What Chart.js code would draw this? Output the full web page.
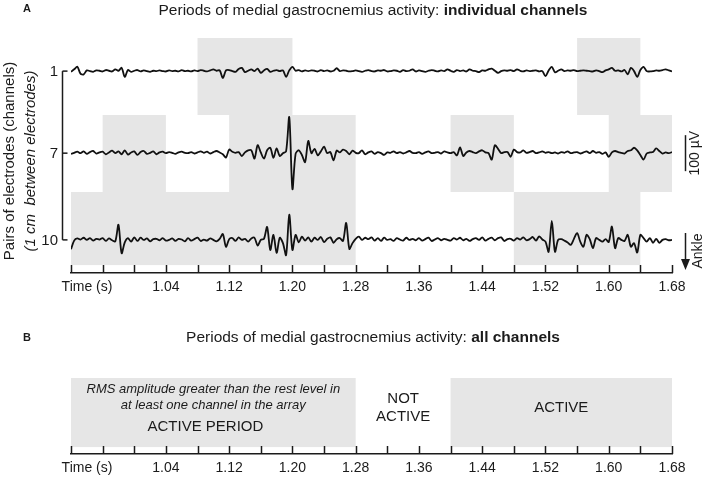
<!DOCTYPE html>
<html>
<head>
<meta charset="utf-8">
<script src="https://cdn.jsdelivr.net/npm/chart.js@4.4.1/dist/chart.umd.min.js"></script>
<style>
  html, body { margin: 0; padding: 0; background: #fff; }
  #wrap { position: relative; width: 708px; height: 481px; }
  canvas { position: absolute; left: 0; }
</style>
</head>
<body>
<div id="wrap">
  <canvas id="chartA" width="708" height="300" style="top:0"></canvas>
  <canvas id="chartB" width="708" height="181" style="top:300px"></canvas>
</div>
<script>
// sampling of the traces (s)
const sampleStart = 0.92;
const sampleStep = 0.004;

const timeTicks = [0.92, 0.96, 1.00, 1.04, 1.08, 1.12, 1.16, 1.20, 1.24, 1.28,
  1.32, 1.36, 1.40, 1.44, 1.48, 1.52, 1.56, 1.60, 1.64, 1.68];
const timeLabels = ['1.04', '1.12', '1.20', '1.28', '1.36', '1.44', '1.52', '1.60', '1.68'];
const channels = ['1', '7', '10'];

// EMG traces, µV, every 4 ms
const ch1Trace = [
  -2, 5, 12, -7, -9, 2, 0, -2, 2, 1,
  -1, 3, 1, -1, 5, 1, 9, -16, 3, -2,
  1, 3, -1, 2, 0, -2, 1, 0, 2, 0,
  -1, 2, 0, 1, -1, 3, 0, 1, -1, 2,
  0, 3, 1, -1, 2, 5, 1, 2, -19, 2,
  3, 0, -2, 6, 9, -3, 1, 5, 0, 7,
  -5, 2, 6, -2, 1, 3, 0, 2, -16, 2,
  12, 1, 3, -1, 2, 0, 2, 1, -1, 3,
  0, 2, -1, 1, 8, 0, 2, 1, -1, 0,
  2, 0, -2, 1, 3, 0, -1, 2, 1, 3,
  -1, 0, 2, 1, -2, 3, 0, 1, 5, -1,
  2, 0, -2, 1, 3, 1, -1, 2, 0, 5,
  1, -2, 3, 0, 2, -1, 5, 1, 0, -3,
  2, 1, 5, 7, 1, -5, 0, 2, 1, 3,
  0, 5, 1, -1, 2, 0, 1, 2, -1, 0,
  -14, 2, 12, -3, 1, 5, 0, 2, 1, 3,
  0, 1, 2, 1, 0, -1, 2, 0, -3, 2,
  5, 9, 1, 2, -1, 3, -9, 9, 0, -16,
  3, 12, 0, -1, 0, 2, 1, 3, 5, 2,
  -1
];
const ch7Trace = [
  -2, 1, 4, 0, 5, -2, 3, 6, -1, 2,
  4, -3, 2, 7, 0, 5, -3, 8, -4, 2,
  5, -5, 3, 6, -2, 1, 5, -3, 2, 4,
  0, 3, 1, -2, 2, 4, 1, 0, 3, -1,
  2, 5, 1, 4, -1, 3, 6, 2, -3, -12,
  10, 4, 1, 3, -8, 2, 8, 8, -15, 22,
  2, -15, 8, 15, -13, 13, -8, 0, 5, 100,
  -100, -2, 8, -5, -25, 34, 0, 12, -6, 5,
  18, 0, 3, -20, 7, 2, 10, 6, -3, 7,
  1, 0, 8, -3, 2, 5, -2, 3, 0, -5,
  2, 1, 5, 0, 3, -1, 2, 6, 1, 0,
  3, -2, 2, 5, 0, 1, 3, -1, 5, 2,
  0, 3, -6, 16, -8, 2, 6, 3, 0, 5,
  8, 2, 0, -18, 22, 12, 0, 3, 3, -10,
  10, 3, 2, 8, 1, 3, 6, 0, 2, 5,
  1, 3, 0, 2, -1, 3, 1, 5, 0, 2,
  3, -1, 2, 5, 0, 6, 1, 3, -2, 2,
  -10, 2, 6, 3, 1, -1, 6, 8, 15, 8,
  -5, -18, -1, 2, 3, 13, 6, -1, 2, 0,
  3
];
const ch10Trace = [
  -26, -2, 4, 1, 6, 0, 5, -2, 3, 1,
  5, -3, 4, -1, -4, 42, -37, -7, 5, -5,
  7, -3, 6, 0, 4, -4, 2, 3, -1, 5,
  -2, 0, 4, -3, 3, 1, -4, 5, -2, 2,
  6, -3, 1, -2, 4, 0, -4, 3, 16, -19,
  2, 5, -3, 7, 0, 3, -5, 4, 6, -16,
  0, 3, 36, -28, 14, -36, 6, -9, -42, 70,
  -28, 14, -7, 9, -2, 7, -5, 6, 0, 8,
  -6, 3, 7, -8, 2, 5, -3, 47, -25, -9,
  3, 9, 0, 6, 2, 7, -2, 5, -3, 6,
  0, 2, -3, 5, 1, -2, 6, 0, 3, -1,
  5, -2, 2, 6, -3, 1, 5, -1, 3, 0,
  -2, 5, 1, 6, -1, 3, -3, 2, 5, 0,
  7, -2, 3, 6, -1, 5, 7, -3, 2, 3,
  -2, 5, 1, 7, -1, 2, 8, -2, 10, 1,
  -5, -33, 53, -33, 0, 2, -2, -7, -14, 3,
  19, -5, -19, 14, 2, -23, 5, 0, -5, 2,
  -6, 37, -23, 5, 0, -3, 14, -19, -9, -35,
  14, 5, -5, 5, -8, 3, -8, 0, 2, -1,
  0
];

// active periods (s)
const ch1Active = [[1.08, 1.20], [1.56, 1.64]];
const ch7Active = [[0.96, 1.04], [1.12, 1.28], [1.40, 1.48], [1.60, 1.68]];
const ch10Active = [[0.92, 1.28], [1.48, 1.64]];
const allActive = [[0.92, 1.28], [1.40, 1.68]];

const FONT = '"Liberation Sans", Arial, Helvetica, sans-serif';
const INK = '#1b1b1b';
const SHADE = '#e6e6e6';

// vertical layout of panel A, in µV
const yTopA = 653;
const baselines = [561, 333, 92];
const rowBands = [[653, 439], [439, 225], [225, 22]];

function toPoints(trace, base) {
  return trace.map((v, i) => ({ x: +(sampleStart + i * sampleStep).toFixed(3), y: base + v }));
}

function drawTitle(ctx, cx, cy, normal, bold) {
  ctx.save();
  ctx.textBaseline = 'middle';
  ctx.fillStyle = INK;
  ctx.font = '15.5px ' + FONT;
  const w1 = ctx.measureText(normal).width;
  ctx.font = 'bold 15.5px ' + FONT;
  const w2 = ctx.measureText(bold).width;
  const x0 = cx - (w1 + w2) / 2;
  ctx.font = '15.5px ' + FONT;
  ctx.textAlign = 'left';
  ctx.fillText(normal, x0, cy);
  ctx.font = 'bold 15.5px ' + FONT;
  ctx.fillText(bold, x0 + w1, cy);
  ctx.restore();
}

function drawLetter(ctx, letter, x, y) {
  ctx.save();
  ctx.font = 'bold 11px ' + FONT;
  ctx.fillStyle = INK;
  ctx.textAlign = 'center';
  ctx.textBaseline = 'middle';
  ctx.fillText(letter, x, y);
  ctx.restore();
}

function upTicks(chart) {
  const { ctx, chartArea, scales: { x } } = chart;
  ctx.save();
  ctx.strokeStyle = INK;
  ctx.lineWidth = 1.5;
  timeTicks.forEach(v => {
    const px = Math.round(x.getPixelForValue(v)) + 0.5;
    ctx.beginPath();
    ctx.moveTo(px, chartArea.bottom);
    ctx.lineTo(px, chartArea.bottom - 8);
    ctx.stroke();
  });
  ctx.font = '14px ' + FONT;
  ctx.fillStyle = INK;
  ctx.textAlign = 'center';
  ctx.textBaseline = 'middle';
  ctx.fillText('Time (s)', 87, chartArea.bottom + 14);
  ctx.restore();
}

function xScaleOpts() {
  return {
    type: 'linear',
    min: 0.92,
    max: 1.68,
    afterBuildTicks: scale => { scale.ticks = timeTicks.map(v => ({ value: v })); },
    afterFit: scale => { scale.height = 27; },
    ticks: {
      autoSkip: false,
      maxRotation: 0,
      padding: 6,
      color: INK,
      font: { family: FONT, size: 14 },
      callback: v => {
        const s = Number(v).toFixed(2);
        return timeLabels.includes(s) ? s : '';
      }
    },
    grid: { display: false, drawTicks: false },
    border: { display: true, color: INK, width: 1.5 }
  };
}

const activeRows = [ch1Active, ch7Active, ch10Active];

const panelAPlugin = {
  id: 'panelA',
  beforeDatasetsDraw(chart) {
    const { ctx, scales: { x, y } } = chart;
    ctx.save();
    ctx.fillStyle = SHADE;
    activeRows.forEach((periods, r) => {
      const yA = y.getPixelForValue(rowBands[r][0]);
      const yB = y.getPixelForValue(rowBands[r][1]);
      periods.forEach(([a, b]) => {
        const xA = x.getPixelForValue(a), xB = x.getPixelForValue(b);
        ctx.fillRect(xA, yA, xB - xA, yB - yA);
      });
    });
    ctx.restore();
  },
  afterDraw(chart) {
    const { ctx, chartArea, scales: { y } } = chart;
    upTicks(chart);
    ctx.save();
    ctx.strokeStyle = INK;
    ctx.fillStyle = INK;
    ctx.lineWidth = 1.5;
    // channel axis
    const axX = 62.5;
    const yFirst = y.getPixelForValue(baselines[0]);
    const yLast = y.getPixelForValue(baselines[baselines.length - 1]);
    ctx.beginPath();
    ctx.moveTo(axX, yFirst);
    ctx.lineTo(axX, yLast);
    ctx.stroke();
    ctx.font = '15px ' + FONT;
    ctx.textAlign = 'right';
    ctx.textBaseline = 'middle';
    channels.forEach((c, i) => {
      const py = y.getPixelForValue(baselines[i]);
      ctx.beginPath();
      ctx.moveTo(axX, py);
      ctx.lineTo(axX + 5, py);
      ctx.stroke();
      ctx.fillText(c, 58, py + 1);
    });
    // axis title
    ctx.save();
    ctx.translate(10, 161);
    ctx.rotate(-Math.PI / 2);
    ctx.textAlign = 'center';
    ctx.font = '15px ' + FONT;
    ctx.fillText('Pairs of electrodes (channels)', 0, 0);
    ctx.font = 'italic 15px ' + FONT;
    ctx.fillText('(1 cm  between electrodes)', 0, 21);
    ctx.restore();
    // 100 µV scale bar
    const sbX = 685.5;
    const sbA = y.getPixelForValue(baselines[1] + 50);
    const sbB = y.getPixelForValue(baselines[1] - 50);
    ctx.beginPath();
    ctx.moveTo(sbX, sbA);
    ctx.lineTo(sbX, sbB);
    ctx.stroke();
    ctx.save();
    ctx.translate(695, (sbA + sbB) / 2);
    ctx.rotate(-Math.PI / 2);
    ctx.textAlign = 'center';
    ctx.font = '14px ' + FONT;
    ctx.fillText('100 µV', 0, 0);
    ctx.restore();
    // ankle arrow
    ctx.beginPath();
    ctx.moveTo(sbX, 233);
    ctx.lineTo(sbX, 261);
    ctx.stroke();
    ctx.beginPath();
    ctx.moveTo(sbX - 4.5, 259);
    ctx.lineTo(sbX + 4.5, 259);
    ctx.lineTo(sbX, 270);
    ctx.closePath();
    ctx.fill();
    ctx.save();
    ctx.translate(698, 251);
    ctx.rotate(-Math.PI / 2);
    ctx.textAlign = 'center';
    ctx.font = '14px ' + FONT;
    ctx.fillText('Ankle', 0, 0);
    ctx.restore();
    ctx.restore();
    drawLetter(ctx, 'A', 27, 9);
    drawTitle(ctx, 373, 11, 'Periods of medial gastrocnemius activity: ', 'individual channels');
  }
};

const traceStyle = { borderColor: '#111', borderWidth: 1.8, pointRadius: 0, tension: 0.3, fill: false };

new Chart(document.getElementById('chartA'), {
  type: 'line',
  data: {
    datasets: [
      Object.assign({ label: 'Channel 1', data: toPoints(ch1Trace, baselines[0]) }, traceStyle),
      Object.assign({ label: 'Channel 7', data: toPoints(ch7Trace, baselines[1]) }, traceStyle),
      Object.assign({ label: 'Channel 10', data: toPoints(ch10Trace, baselines[2]) }, traceStyle)
    ]
  },
  options: {
    responsive: false,
    animation: false,
    devicePixelRatio: 1,
    layout: { padding: { left: 71, right: 36, top: 38, bottom: 0 } },
    plugins: { legend: { display: false }, tooltip: { enabled: false } },
    scales: {
      x: xScaleOpts(),
      y: { display: false, min: 0, max: yTopA }
    }
  },
  plugins: [panelAPlugin]
});

// panel B: union of active periods
const panelBNotes = [
  { t: 1.10, y: 0.83, text: 'RMS amplitude greater than the rest level in', font: 'italic 13px ' },
  { t: 1.10, y: 0.60, text: 'at least one channel in the array', font: 'italic 13px ' },
  { t: 1.09, y: 0.30, text: 'ACTIVE PERIOD', font: '15px ' },
  { t: 1.34, y: 0.70, text: 'NOT', font: '15px ' },
  { t: 1.34, y: 0.44, text: 'ACTIVE', font: '15px ' },
  { t: 1.54, y: 0.57, text: 'ACTIVE', font: '15px ' }
];

const panelBPlugin = {
  id: 'panelB',
  beforeDatasetsDraw(chart) {
    const { ctx, scales: { x, y } } = chart;
    ctx.save();
    ctx.fillStyle = SHADE;
    allActive.forEach(([a, b]) => {
      const xA = x.getPixelForValue(a), xB = x.getPixelForValue(b);
      const yA = y.getPixelForValue(1), yB = y.getPixelForValue(0);
      ctx.fillRect(xA, yA, xB - xA, yB - yA);
    });
    ctx.restore();
  },
  afterDraw(chart) {
    const { ctx, scales: { x, y } } = chart;
    upTicks(chart);
    ctx.save();
    ctx.fillStyle = INK;
    ctx.textAlign = 'center';
    ctx.textBaseline = 'middle';
    panelBNotes.forEach(n => {
      ctx.font = n.font + FONT;
      ctx.fillText(n.text, x.getPixelForValue(n.t), y.getPixelForValue(n.y));
    });
    ctx.restore();
    drawLetter(ctx, 'B', 27, 37.5);
    drawTitle(ctx, 373, 38, 'Periods of medial gastrocnemius activity: ', 'all channels');
  }
};

new Chart(document.getElementById('chartB'), {
  type: 'line',
  data: { datasets: [] },
  options: {
    responsive: false,
    animation: false,
    devicePixelRatio: 1,
    layout: { padding: { left: 71, right: 36, top: 78, bottom: 0 } },
    plugins: { legend: { display: false }, tooltip: { enabled: false } },
    scales: {
      x: xScaleOpts(),
      y: { display: false, min: -0.1, max: 1 }
    }
  },
  plugins: [panelBPlugin]
});
</script>
</body>
</html>
